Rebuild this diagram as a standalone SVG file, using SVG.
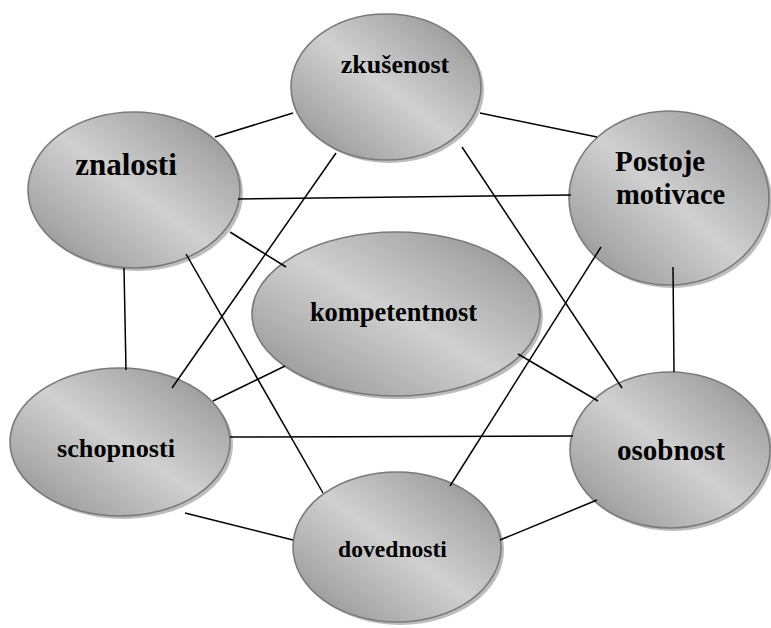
<svg xmlns="http://www.w3.org/2000/svg" width="771" height="628" viewBox="0 0 771 628">
<defs>
<linearGradient id="g" x1="1" y1="0" x2="0" y2="1">
<stop offset="0" stop-color="#858585"/>
<stop offset="0.2" stop-color="#a8a8a8"/>
<stop offset="0.5" stop-color="#d0d0d0"/>
<stop offset="0.8" stop-color="#a8a8a8"/>
<stop offset="1" stop-color="#858585"/>
</linearGradient>
</defs>
<style>
.sh{fill:#bcbcbc;stroke:none}
.el{fill:url(#g);stroke:#7a7a7a;stroke-width:1.6}
.t{font-family:"Liberation Serif","Times New Roman",serif;font-weight:bold;fill:#000;text-anchor:middle}
.c line{stroke:#000;stroke-width:1.5}
</style>
<rect width="771" height="628" fill="#fff"/>
<g id="zkusenost">
<ellipse class="sh" cx="389" cy="90" rx="95" ry="73"/>
<ellipse class="el" cx="386" cy="87" rx="95" ry="73"/>
<text class="t" x="395" y="73" font-size="26">zkušenost</text>
</g>
<g id="znalosti">
<ellipse class="sh" cx="137" cy="193" rx="106" ry="78"/>
<ellipse class="el" cx="134" cy="190" rx="106" ry="78"/>
<text class="t" x="126" y="175" font-size="31">znalosti</text>
</g>
<g id="postoje">
<ellipse class="sh" cx="672" cy="201" rx="100" ry="87"/>
<ellipse class="el" cx="669" cy="198" rx="100" ry="87"/>
<text class="t" x="615" y="171" font-size="29" style="text-anchor:start">Postoje</text>
<text class="t" x="616" y="204" font-size="28.5" style="text-anchor:start">motivace</text>
</g>
<g id="kompetentnost">
<ellipse class="sh" cx="399" cy="317" rx="144" ry="82"/>
<ellipse class="el" cx="396" cy="314" rx="144" ry="82"/>
<text class="t" x="393.5" y="321" font-size="26.4">kompetentnost</text>
</g>
<g id="schopnosti">
<ellipse class="sh" cx="123" cy="445" rx="110" ry="74"/>
<ellipse class="el" cx="120" cy="442" rx="110" ry="74"/>
<text class="t" x="116" y="457" font-size="26.2">schopnosti</text>
</g>
<g id="dovednosti">
<ellipse class="sh" cx="400" cy="550" rx="104" ry="75"/>
<ellipse class="el" cx="397" cy="547" rx="104" ry="75"/>
<text class="t" x="392.5" y="557" font-size="23.6">dovednosti</text>
</g>
<g id="osobnost">
<ellipse class="sh" cx="673" cy="453" rx="100" ry="78"/>
<ellipse class="el" cx="670" cy="450" rx="100" ry="78"/>
<text class="t" x="671" y="460" font-size="29">osobnost</text>
</g>
<g class="c" id="connectors">
<line x1="215" y1="137" x2="293" y2="113"/>
<line x1="480" y1="113" x2="597" y2="137"/>
<line x1="238" y1="199" x2="571" y2="195"/>
<line x1="230" y1="232" x2="286" y2="267"/>
<line x1="124" y1="268" x2="126" y2="370"/>
<line x1="186" y1="254" x2="323" y2="493"/>
<line x1="336" y1="153" x2="172" y2="388"/>
<line x1="462" y1="147" x2="622" y2="388"/>
<line x1="601" y1="247" x2="450" y2="486"/>
<line x1="673" y1="267" x2="674" y2="372"/>
<line x1="285" y1="366" x2="213" y2="401"/>
<line x1="518" y1="354" x2="598" y2="401"/>
<line x1="230" y1="437" x2="573" y2="436"/>
<line x1="185" y1="513" x2="293" y2="540"/>
<line x1="500" y1="540" x2="597" y2="500"/>
</g>
</svg>
